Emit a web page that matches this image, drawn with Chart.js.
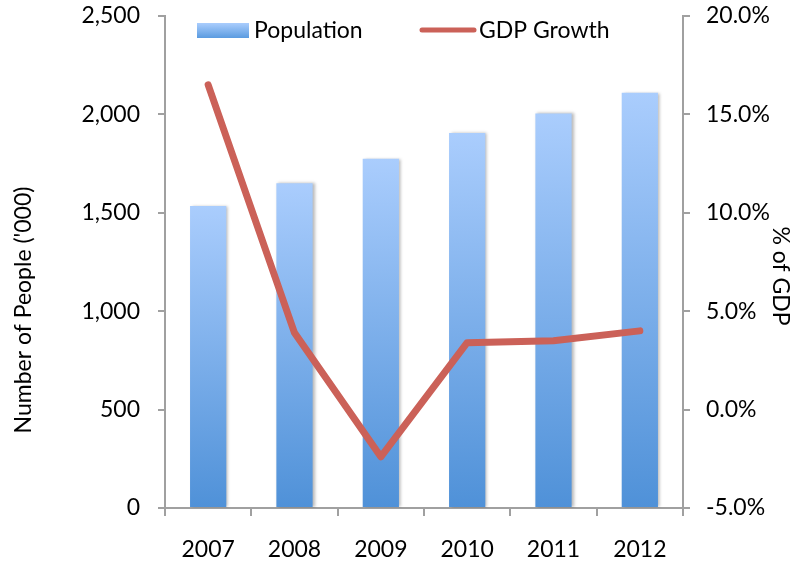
<!DOCTYPE html>
<html>
<head>
<meta charset="utf-8">
<title>Population and GDP Growth</title>
<script src="https://cdn.jsdelivr.net/npm/chart.js@4.4.1/dist/chart.umd.min.js"></script>
<style>
  html, body { margin: 0; padding: 0; background: #fff; }
  #wrap { width: 808px; height: 564px; }
</style>
</head>
<body>
<div id="wrap"><canvas id="popChart" width="808" height="564"></canvas></div>
<script>
const years = ['2007', '2008', '2009', '2010', '2011', '2012'];
const population = [1535, 1650, 1775, 1905, 2005, 2110]; // thousands of people
const gdpGrowth = [16.5, 3.9, -2.4, 3.4, 3.5, 4.0];      // % of GDP
const popTicks = [0, 500, 1000, 1500, 2000, 2500];
const gdpTicks = [-5, 0, 5, 10, 15, 20];

const axisGrey = '#a0a0a0';
const lineRed = '#cb6158';
const barTop = '#aacdfd';
const barBottom = '#4f91d8';
const FONT = 'Lato';

// vertical gradient for each bar, from its top down to the zero line
function barFill(context) {
  const chart = context.chart;
  if (!chart.chartArea || context.raw === undefined) return '#7fb0ea';
  const yScale = chart.scales.y;
  const top = yScale.getPixelForValue(context.raw);
  const base = yScale.getPixelForValue(0);
  const g = chart.ctx.createLinearGradient(0, top, 0, base);
  g.addColorStop(0, barTop);
  g.addColorStop(1, barBottom);
  return g;
}

// soft shadow to the right of the bars
const barShadow = {
  id: 'barShadow',
  beforeDatasetDraw(chart, args) {
    if (args.meta.type !== 'bar') return;
    const ctx = chart.ctx;
    ctx.save();
    ctx.shadowColor = 'rgba(0,0,0,0.28)';
    ctx.shadowOffsetX = 2;
    ctx.shadowOffsetY = 0;
    ctx.shadowBlur = 3;
  },
  afterDatasetDraw(chart, args) {
    if (args.meta.type !== 'bar') return;
    chart.ctx.restore();
  }
};

// axis titles, drawn by hand so they can sit off the axis centre
const axisTitles = {
  id: 'axisTitles',
  afterDraw(chart) {
    const ctx = chart.ctx;
    const area = chart.chartArea;
    const left = chart.options.scales.y.title.text;
    const right = chart.options.scales.y1.title.text;
    ctx.save();
    ctx.font = '23px ' + FONT;
    ctx.fillStyle = '#000';
    ctx.textAlign = 'center';
    ctx.textBaseline = 'middle';

    ctx.save();
    ctx.translate(24, area.top + 294);
    ctx.rotate(-Math.PI / 2);
    ctx.fillText(left, 0, 0);
    ctx.restore();

    ctx.save();
    ctx.translate(780, area.top + 260);
    ctx.rotate(Math.PI / 2);
    ctx.fillText(right, 0, 0);
    ctx.restore();

    ctx.restore();
  }
};

// legend inside the top of the plot area
const insideLegend = {
  id: 'insideLegend',
  afterDraw(chart) {
    const ctx = chart.ctx;
    const area = chart.chartArea;
    const y = area.top + 14;
    const slots = [area.left + 32, area.left + 255];
    ctx.save();
    ctx.font = '23px ' + FONT;
    ctx.textBaseline = 'middle';
    ctx.fillStyle = '#000';
    chart.data.datasets.forEach((ds, i) => {
      const x = slots[i];
      if (ds.type === 'line') {
        ctx.strokeStyle = ds.borderColor;
        ctx.lineWidth = 5;
        ctx.lineCap = 'round';
        ctx.beginPath();
        ctx.moveTo(x + 2, y);
        ctx.lineTo(x + 54, y);
        ctx.stroke();
        ctx.fillStyle = '#000';
        ctx.fillText(ds.label, x + 59, y + 1);
      } else {
        const g = ctx.createLinearGradient(0, y - 7, 0, y + 8);
        g.addColorStop(0, barTop);
        g.addColorStop(1, '#5a9be0');
        ctx.fillStyle = g;
        ctx.fillRect(x, y - 7, 52, 15);
        ctx.fillStyle = '#000';
        ctx.fillText(ds.label, x + 57, y + 1);
      }
    });
    ctx.restore();
  }
};

// fixed box sizes for the value axes; top/bottom padding only needs half a label
function fitValueAxis(width) {
  return s => {
    s.width = width;
    s.paddingTop = 16;
    s.paddingBottom = 14;
  };
}

Chart.defaults.font.family = FONT;
Chart.defaults.font.size = 23;
Chart.defaults.color = '#000';

const ctx = document.getElementById('popChart').getContext('2d');
new Chart(ctx, {
  type: 'bar',
  data: {
    labels: years,
    datasets: [
      {
        type: 'bar',
        label: 'Population',
        data: population,
        backgroundColor: barFill,
        borderWidth: 0,
        categoryPercentage: 1,
        barPercentage: 0.42,
        yAxisID: 'y',
        order: 2
      },
      {
        type: 'line',
        label: 'GDP Growth',
        data: gdpGrowth,
        borderColor: lineRed,
        borderWidth: 7,
        borderCapStyle: 'round',
        borderJoinStyle: 'round',
        pointRadius: 0,
        tension: 0,
        fill: false,
        yAxisID: 'y1',
        order: 1
      }
    ]
  },
  options: {
    responsive: false,
    animation: false,
    layout: { padding: 0 },
    plugins: {
      legend: { display: false },
      tooltip: { enabled: false }
    },
    scales: {
      x: {
        grid: {
          display: true,
          offset: true,
          drawOnChartArea: false,
          color: axisGrey,
          lineWidth: 2,
          tickLength: 8
        },
        border: { color: axisGrey, width: 2 },
        ticks: { padding: 20, font: { size: 23 } },
        afterFit: s => { s.height = 56; }
      },
      y: {
        position: 'left',
        min: 0,
        max: 2500,
        afterBuildTicks: s => { s.ticks = popTicks.map(v => ({ value: v })); },
        grid: {
          drawOnChartArea: false,
          color: axisGrey,
          lineWidth: 2,
          tickLength: 7
        },
        border: { color: axisGrey, width: 2 },
        ticks: {
          padding: 18,
          callback: v => v.toLocaleString('en-US')
        },
        title: { display: false, text: "Number of People ('000)" },
        afterFit: fitValueAxis(165)
      },
      y1: {
        position: 'right',
        min: -5,
        max: 20,
        afterBuildTicks: s => { s.ticks = gdpTicks.map(v => ({ value: v })); },
        grid: {
          drawOnChartArea: false,
          color: axisGrey,
          lineWidth: 2,
          tickLength: 7
        },
        border: { color: axisGrey, width: 2 },
        ticks: {
          padding: 16,
          callback: v => v.toFixed(1) + '%'
        },
        title: { display: false, text: '% of GDP' },
        afterFit: fitValueAxis(125)
      }
    }
  },
  plugins: [barShadow, axisTitles, insideLegend]
});
</script>
</body>
</html>
